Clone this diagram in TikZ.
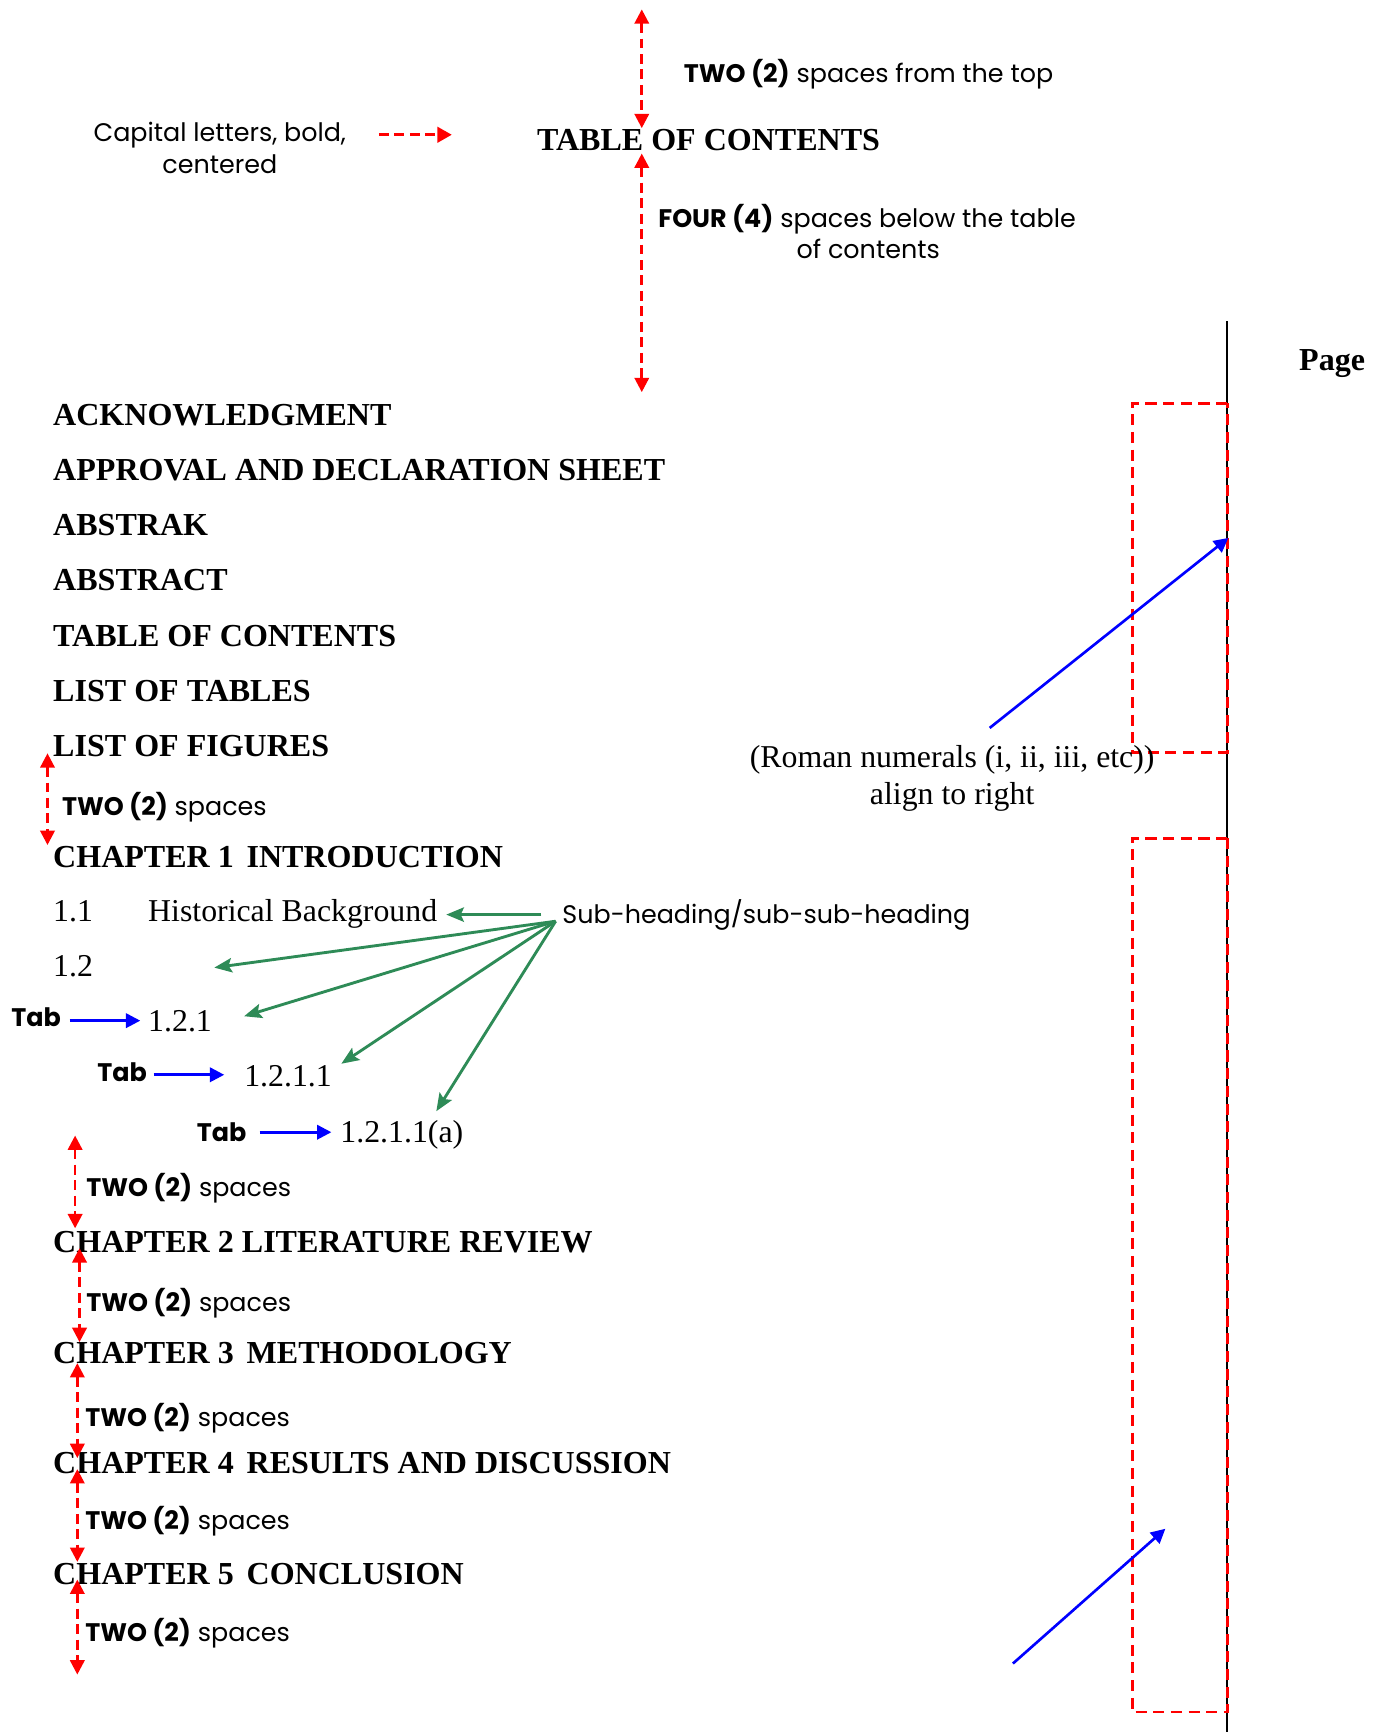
\documentclass[tikz,border=0pt]{standalone}
\usepackage{fontspec}
\setmainfont{Liberation Serif}
\newfontfamily\gothic{Poppins}
\usetikzlibrary{arrows.meta}
\definecolor{sgreen}{RGB}{46,139,87}
\tikzset{
  toc/.style={anchor=base west, inner sep=0pt, font=\fontsize{29}{33}\selectfont\bfseries},
  tocn/.style={anchor=base west, inner sep=0pt, font=\fontsize{28.8}{33}\selectfont},
  tocc/.style={anchor=base, inner sep=0pt, font=\fontsize{28.8}{33}\selectfont},
  note/.style={anchor=base west, inner sep=0pt, font=\gothic\fontsize{23}{29}\selectfont},
  notec/.style={anchor=base, inner sep=0pt, font=\gothic\fontsize{23}{29}\selectfont},
  redarr/.style={red, line width=2.4pt, dash pattern=on 9pt off 5pt,
    {Triangle[length=13pt,width=13pt]}-{Triangle[length=13pt,width=13pt]}},
  redone/.style={red, line width=2.4pt, dash pattern=on 9pt off 5pt,
    -{Triangle[length=13pt,width=14pt]}},
  bluearr/.style={blue, line width=2.4pt, -{Triangle[length=13pt,width=13pt]}},
  greenarr/.style={sgreen, line width=2.6pt, -{Stealth[length=16pt,width=13pt,inset=3pt]}},
  reddash/.style={red, line width=2.4pt, dash pattern=on 10pt off 6pt},
}
\begin{document}
\begin{tikzpicture}[x=1pt,y=-1pt]
\useasboundingbox (0,0) rectangle (1252,1568);

% ---------- top heading ----------
\node[toc] (title) at (486,136) {TABLE OF CONTENTS};
\node[note] (twotop) at (619,75) {\bfseries TWO (2)\mdseries{} spaces from the top};
\node[notec] (cap1) at (199,128) {Capital letters, bold,};
\node[notec] (cap2) at (199,157) {centered};
\node[notec] (four1) at (785,206) {\bfseries FOUR (4)\mdseries{} spaces below the table};
\node[notec] (four2) at (786,234) {of contents};

\coordinate (ta) at (581,8.5);
\coordinate (tb) at (581,116);
\coordinate (fa) at (581,139);
\coordinate (fb) at (581,355);
\draw[redarr] (ta) -- (tb);
\draw[redarr] (fa) -- (fb);
\coordinate (capa) at (343,122);
\coordinate (capb) at (409,122);
\draw[redone] (capa) -- (capb);

% ---------- TOC entries ----------
\node[toc] (ack) at (48,385) {ACKNOWLEDGMENT};
\node[toc] (appr) at (48,435) {APPROVAL AND DECLARATION SHEET};
\node[toc] (abk) at (48,485) {ABSTRAK};
\node[toc] (abt) at (48,535) {ABSTRACT};
\node[toc] (toc) at (48,585) {TABLE OF CONTENTS};
\node[toc] (lot) at (48,635) {LIST OF TABLES};
\node[toc] (lof) at (48,685) {LIST OF FIGURES};
\node[note] (sp0) at (56,738) {\bfseries TWO (2)\mdseries{} spaces};
\node[toc] (ch1) at (48,785) {CHAPTER 1\hspace{0.4em}INTRODUCTION};
\node[tocn] (n11) at (48,834) {1.1};
\node[tocn] (hb) at (134,834) {Historical Background};
\node[tocn] (n12) at (48,884) {1.2};
\node[tocn] (n121) at (134,934) {1.2.1};
\node[tocn] (n1211) at (221,984) {1.2.1.1};
\node[tocn] (n1211a) at (308,1034) {1.2.1.1(a)};
\node[note] (tab1) at (10,929) {\bfseries Tab};
\node[note] (tab2) at (88,979) {\bfseries Tab};
\node[note] (tab3) at (178,1033.5) {\bfseries Tab};
\node[note] (sub) at (509,836) {Sub-heading/sub-sub-heading};
\node[note] (sp1) at (78,1083) {\bfseries TWO (2)\mdseries{} spaces};
\node[toc] (ch2) at (48,1134) {CHAPTER 2 LITERATURE REVIEW};
\node[note] (sp2) at (78,1187) {\bfseries TWO (2)\mdseries{} spaces};
\node[toc] (ch3) at (48,1234) {CHAPTER 3\hspace{0.4em}METHODOLOGY};
\node[note] (sp3) at (77,1291) {\bfseries TWO (2)\mdseries{} spaces};
\node[toc] (ch4) at (48,1334) {CHAPTER 4\hspace{0.4em}RESULTS AND DISCUSSION};
\node[note] (sp4) at (77,1385) {\bfseries TWO (2)\mdseries{} spaces};
\node[toc] (ch5) at (48,1434) {CHAPTER 5\hspace{0.4em}CONCLUSION};
\node[note] (sp5) at (77,1486.5) {\bfseries TWO (2)\mdseries{} spaces};

% red spacing arrows on the left
\coordinate (la0) at (43,682);   \coordinate (lb0) at (43,765);
\coordinate (la1) at (68,1028);  \coordinate (lb1) at (68,1112);
\coordinate (la2) at (72,1130);  \coordinate (lb2) at (72,1215);
\coordinate (la3) at (70,1234);  \coordinate (lb3) at (70,1320);
\coordinate (la4) at (70,1330);  \coordinate (lb4) at (70,1414);
\coordinate (la5) at (70,1430);  \coordinate (lb5) at (70,1516);
\foreach \i in {0,...,5} { \draw[redarr] (la\i) -- (lb\i); }

% tab arrows
\coordinate (t1a) at (63,924);  \coordinate (t1b) at (127,924);
\coordinate (t2a) at (139,973); \coordinate (t2b) at (203,973);
\coordinate (t3a) at (235,1025); \coordinate (t3b) at (300,1025);
\draw[bluearr] (t1a) -- (t1b);
\draw[bluearr] (t2a) -- (t2b);
\draw[bluearr] (t3a) -- (t3b);

% green sub-heading arrows
\coordinate (gs0) at (490,828); \coordinate (ge0) at (404,828);
\coordinate (gs) at (503,834);
\coordinate (ge1) at (194,876);
\coordinate (ge2) at (221,920);
\coordinate (ge3) at (309,963);
\coordinate (ge4) at (395,1006);
\draw[greenarr] (gs0) -- (ge0);
\foreach \i in {1,...,4} { \draw[greenarr] (gs) -- (ge\i); }

% ---------- right side: page column ----------
\node[toc] (page) at (1176,335) {Page};
\coordinate (vl1) at (1111,291);
\coordinate (vl2) at (1111,1568);
\draw[black, line width=1.5pt] (vl1) -- (vl2);
\coordinate (r1a) at (1111,365); \coordinate (r1b) at (1025,365);
\coordinate (r1c) at (1025,681); \coordinate (r1d) at (1111,681);
\draw[reddash] (r1a) -- (r1b) -- (r1c) -- (r1d) -- cycle;
\coordinate (r2a) at (1111,759); \coordinate (r2b) at (1025,759);
\coordinate (r2c) at (1025,1550); \coordinate (r2d) at (1111,1550);
\draw[reddash] (r2a) -- (r2b) -- (r2c) -- (r2d) -- cycle;

\node[tocc] (rom1) at (862,695) {(Roman numerals (i, ii, iii, etc))};
\node[tocc] (rom2) at (862,728) {align to right};
\coordinate (b1a) at (896,659); \coordinate (b1b) at (1112,487);
\coordinate (b2a) at (917,1506); \coordinate (b2b) at (1055,1384);
\draw[bluearr] (b1a) -- (b1b);
\draw[bluearr] (b2a) -- (b2b);
\end{tikzpicture}
\end{document}
